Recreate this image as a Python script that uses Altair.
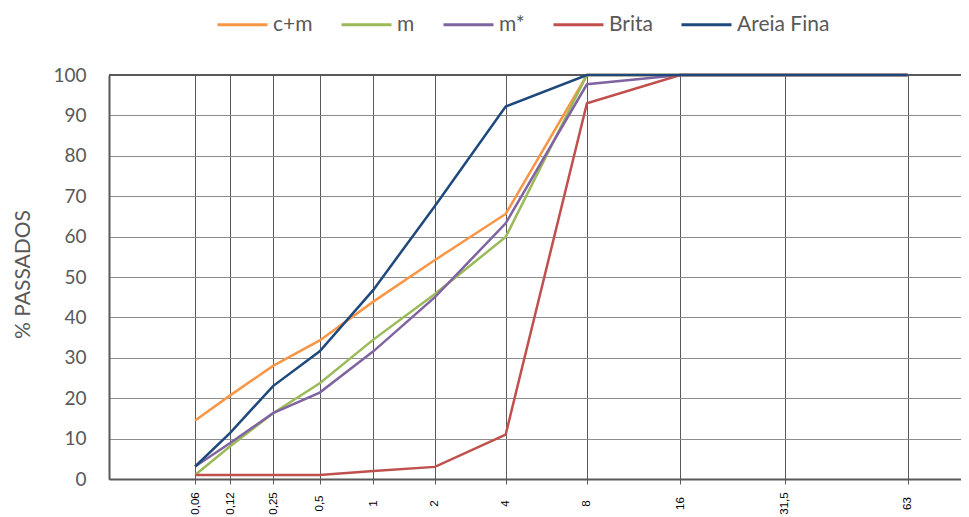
import altair as alt
import pandas as pd

sieves = [0.06, 0.12, 0.25, 0.5, 1, 2, 4, 8, 16, 31.5, 63]
sieve_labels = ["0,06", "0,12", "0,25", "0,5", "1", "2", "4", "8", "16", "31,5", "63"]

series_names = ["c+m", "m", "m*", "Brita", "Areia Fina"]
series_colors = ["#F79646", "#9BBB59", "#8064A2", "#C0504D", "#1F497D"]

cm = [14.5, 20.7, 28.0, 34.3, 43.9, 54.2, 65.6, 100, 100, 100, 100]
m = [1.0, 8.1, 16.3, 23.7, 34.5, 45.8, 59.9, 100, 100, 100, 100]
m_star = [3.1, 8.9, 16.3, 21.4, 31.6, 45.0, 63.3, 97.7, 100, 100, 100]
brita = [1.0, 1.0, 1.0, 1.0, 2.0, 3.0, 11.0, 93.0, 100, 100, 100]
areia = [3.1, 11.4, 23.0, 31.6, 46.8, 67.6, 92.2, 100, 100, 100, 100]

y_ticks = [0, 10, 20, 30, 40, 50, 60, 70, 80, 90, 100]

all_series = [cm, m, m_star, brita, areia]
rows = []
for name, vals in zip(series_names, all_series):
    for i, (d, v) in enumerate(zip(sieves, vals)):
        rows.append({"serie": name, "d": d, "p": v, "ordem": i})
df = pd.DataFrame(rows)

label_expr = ""
for v, lab in zip(sieves, sieve_labels):
    label_expr += f"datum.value == {v} ? '{lab}' : "
label_expr += "''"

x_scale = alt.Scale(type="pow", exponent=0.2, domain=[0.0062, 82.8], nice=False, zero=False)
y_scale = alt.Scale(domain=[0, 100], nice=False)

lines = alt.Chart(df).mark_line(strokeWidth=2.5).encode(
    x=alt.X("d:Q", scale=x_scale,
            axis=alt.Axis(values=sieves, labelExpr=label_expr, title=None,
                          grid=True, gridColor="#595959", gridWidth=1,
                          ticks=True, tickSize=5, tickColor="#595959",
                          domainColor="#595959", domainWidth=2,
                          labelAngle=270, labelAlign="center", labelBaseline="middle",
                          labelPadding=19, labelFont="Liberation Sans", labelFontSize=11.5,
                          labelColor="#000000", labelOverlap=False, labelBound=False,
                          labelFlush=False)),
    y=alt.Y("p:Q", scale=y_scale,
            axis=alt.Axis(values=y_ticks, title="% PASSADOS", grid=True,
                          gridColor="#8c8c8c", gridWidth=1, ticks=False,
                          domainColor="#595959", domainWidth=2,
                          labelFont="Lato", labelFontSize=19, labelColor="#595959",
                          labelPadding=23,
                          titleFont="Lato", titleFontSize=21, titleFontWeight="normal",
                          titleColor="#595959", titleAngle=270, titleX=-86, titleY=199,
                          titleAlign="center", titleBaseline="middle")),
    color=alt.Color("serie:N", scale=alt.Scale(domain=series_names, range=series_colors),
                    legend=alt.Legend(title=None, orient="none", direction="horizontal",
                                      legendX=107, legendY=-77,
                                      symbolType="stroke", symbolSize=2500,
                                      symbolStrokeWidth=3, labelFont="Lato",
                                      labelFontSize=21, labelColor="#595959",
                                      labelOffset=4, columnPadding=22)),
    order="ordem:Q",
)

top_rule = alt.Chart(pd.DataFrame({"v": [100]})).mark_rule(color="#595959", strokeWidth=2).encode(
    y=alt.Y("v:Q", scale=y_scale)
)

chart = alt.layer(top_rule, lines).properties(
    width=852, height=404,
    autosize=alt.AutoSizeParams(type="none"),
    padding={"left": 101, "top": 67, "right": 0, "bottom": 36},
).configure_view(stroke=None).configure(background="white")

chart.save("out.html", embed_options={"renderer": "svg", "actions": False})
